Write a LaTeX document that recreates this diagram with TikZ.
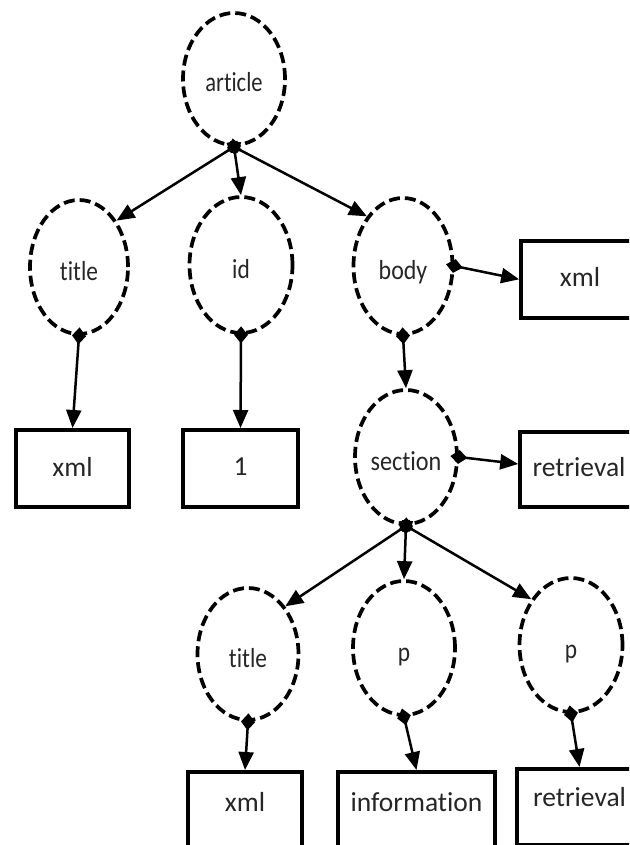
\documentclass[tikz,border=0pt]{standalone}
\usepackage{fontspec}
\usepackage{graphicx}
\setmainfont{Carlito}[Ligatures={NoCommon}]
\usetikzlibrary{arrows.meta,shapes.geometric}
% narrowed, zero-width label so the ellipse size comes only from its minimum width/height
\newcommand\zw[2][0.85]{\makebox[0pt]{\scalebox{#1}[1]{#2}}}
\begin{document}
\begin{tikzpicture}[x=1pt,y=-1pt,
  every node/.style={font=\fontsize{27.5pt}{32pt}\selectfont, text=black!85},
  tag/.style={ellipse, draw, line width=3.7pt, dash pattern=on 11pt off 5pt,
    inner sep=0pt, text height=26pt, text depth=0pt},
  leaf/.style={rectangle, draw, line width=3.6pt, inner sep=0pt, anchor=north},
  link/.style={line width=2.5pt,
    {Diamond[length=17pt,width=14pt]}-{Triangle[length=18pt,width=15pt]},
    shorten <=-8.5pt}
]
\useasboundingbox (0,0) rectangle (629,845);
\clip (0,0) rectangle (629,845);
\fill[white] (0,0) rectangle (629,845);

% element nodes
\node[tag, minimum width=102pt, minimum height=132pt] (article) at (234,79)  {\zw[0.82]{article}};
\node[tag, minimum width=98pt,  minimum height=134pt] (title1)  at (79,267)  {\zw{title}};
\node[tag, minimum width=103pt, minimum height=136pt] (id)      at (241,265) {\zw{id}};
\node[tag, minimum width=99pt,  minimum height=136pt] (body)    at (403,266) {\zw[0.87]{body}};
\node[tag, minimum width=102pt, minimum height=134pt] (section) at (406,457) {\zw[0.88]{section}};
\node[tag, minimum width=101pt, minimum height=132pt] (title2)  at (248,654) {\zw{title}};
\node[tag, minimum width=102pt, minimum height=134pt] (p1)      at (404,648) {\zw{p}};
\node[tag, minimum width=103pt, minimum height=134pt] (p2)      at (571,645) {\zw{p}};

% text leaves
\node[leaf, minimum width=118pt, text height=46pt, text depth=31pt] (xmlR)  at (580,239)   {xml};
\node[leaf, minimum width=113pt, text height=47pt, text depth=30pt] (xmlA)  at (72.5,428)  {xml};
\node[leaf, minimum width=115pt, text height=46pt, text depth=31pt] (one)   at (240.5,428) {1};
\node[leaf, minimum width=118pt, text height=45pt, text depth=30pt] (retrA) at (579,430)   {retrieval};
\node[leaf, minimum width=114pt, text height=40pt, text depth=50pt] (xmlB)  at (245,770)   {xml};
\node[leaf, minimum width=157pt, text height=40pt, text depth=50pt] (info)  at (416.5,770) {information};
\node[leaf, minimum width=125pt, text height=38pt, text depth=38pt] (retrB) at (579.5,767) {retrieval};

% parent-child links
\draw[link] (article.south) -- (title1.51);
\draw[link] (article.south) -- (id.north);
\draw[link] (article.south) -- (body.126);
\draw[link] (title1.south) -- (xmlA.north);
\draw[link] (id.south) -- (one.north);
\draw[link] (body.south) -- (section.north);
\draw[link] (body.east) -- (xmlR.west);
\draw[link] (section.east) -- (retrA.175);
\draw[link] (section.south) -- (title2.52);
\draw[link] (section.south) -- (p1.north);
\draw[link] (section.south) -- (p2.131);
\draw[link] (title2.south) -- (xmlB.north);
\draw[link] (p1.south) -- (info.north);
\draw[link] (p2.south) -- (retrB.north);
\end{tikzpicture}
\end{document}
